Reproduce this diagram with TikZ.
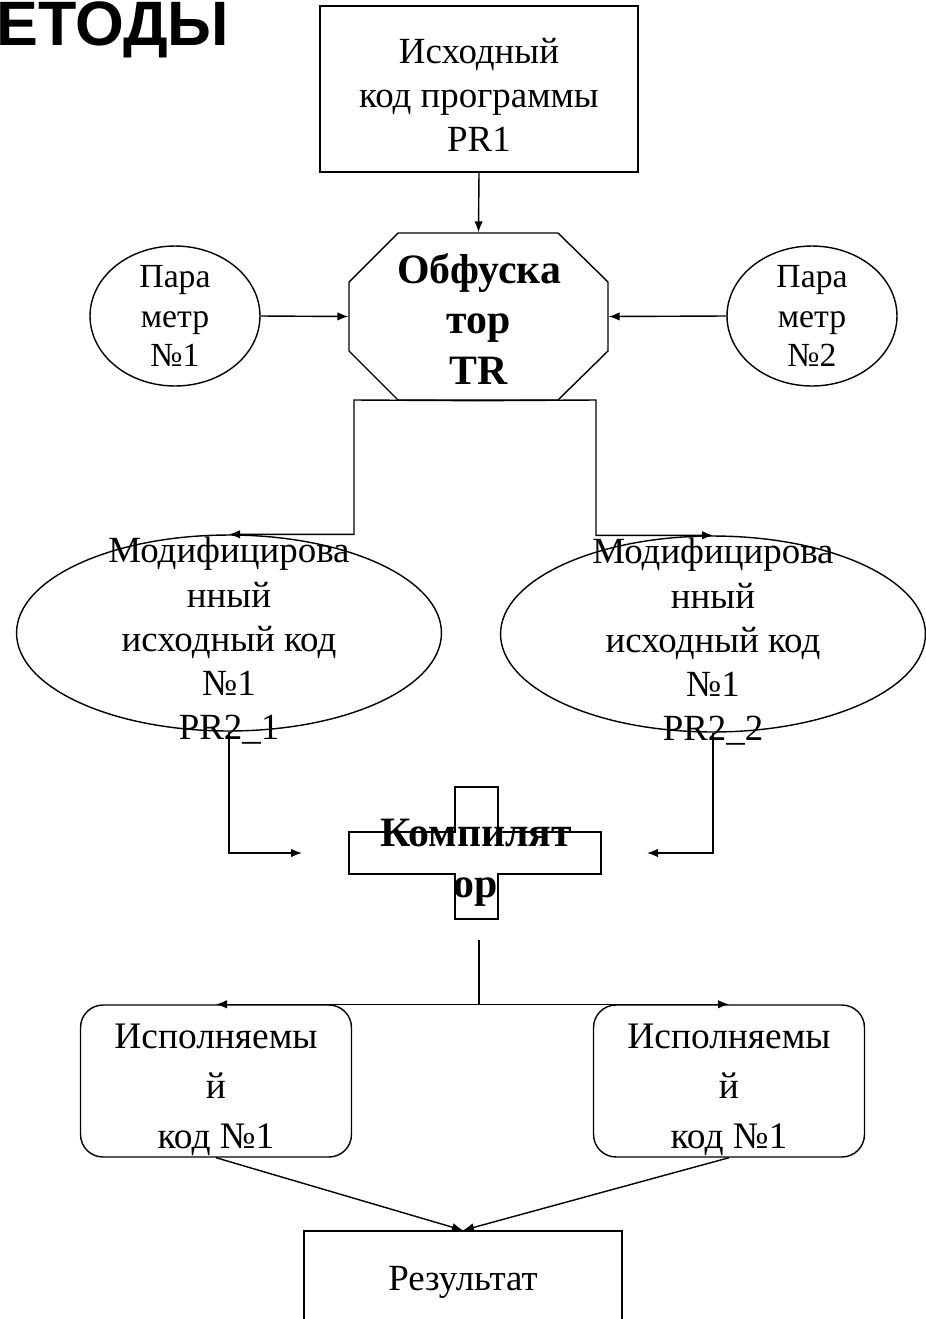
\documentclass[tikz,border=0pt]{standalone}
\usepackage{fontspec}
\setmainfont{Liberation Serif}
\newfontfamily\titlefont{Liberation Sans}
\usetikzlibrary{arrows.meta, shapes.geometric}

\tikzset{
    conn/.style={-{Latex[length=2.2mm, width=1.7mm]}},
    frame/.style={draw=none, inner sep=0pt},
    txt/.style={align=center, inner sep=0pt, font=\fontsize{21}{25.2}\selectfont},
    smalltxt/.style={align=center, inner sep=0pt, font=\fontsize{19.2}{22.7}\selectfont},
    exetxt/.style={align=center, inner sep=0pt, font=\fontsize{21.3}{28.3}\selectfont},
    boldtxt/.style={align=center, inner sep=0pt, font=\fontsize{23.8}{28.9}\selectfont\bfseries},
    box/.style={draw, rectangle, inner sep=0pt},
    roundbox/.style={draw, rectangle, rounded corners=0.45cm, inner sep=0pt, minimum width=5.42cm, minimum height=3.04cm},
    paramell/.style={draw, ellipse, inner sep=0pt, minimum width=3.4cm, minimum height=2.8cm},
    modell/.style={draw, ellipse, inner sep=0pt, minimum width=8.5cm, minimum height=3.92cm}
}

\begin{document}
\begin{tikzpicture}[x=0.02cm, y=-0.02cm, line width=0.8pt]
    \useasboundingbox (0,0) rectangle (926,1319);
    \clip (0,0) rectangle (926,1319);
    % Title
    \node[anchor=base west, inner sep=0pt, font=\titlefont\fontsize{35.7}{40}\selectfont\bfseries] (title) at (-4,45) {ЕТОДЫ};
    % Source code
    \node[box, minimum width=6.36cm, minimum height=3.32cm] (src) at (479,89) {};
    \node[txt] (srctxt) at (479,95) {Исходный\\код программы\\PR1};
    % Obfuscator
    \draw (398,233) -- (558,233) -- (608,282) -- (608,351) -- (558,400) -- (398,400) -- (349,351) -- (349,282) -- cycle;
    \node[frame, minimum width=5.18cm, minimum height=3.34cm] (obf) at (478.5,316.5) {};
    \node[boldtxt] (obftxt) at (479,319) {Обфуска\\тор\\TR};
    % Parameters
    \node[paramell] (par1) at (175,316) {};
    \node[smalltxt] (par1txt) at (175,316) {Пара\\метр\\№1};
    \node[paramell] (par2) at (812,316) {};
    \node[smalltxt] (par2txt) at (812,316) {Пара\\метр\\№2};
    % Modified code
    \node[modell] (mod1) at (229,633) {};
    \node[txt] (mod1txt) at (229,641) {Модифицирова\\нный\\исходный код\\№1\\PR2\_1};
    \node[modell] (mod2) at (713,634) {};
    \node[txt] (mod2txt) at (713,642) {Модифицирова\\нный\\исходный код\\№1\\PR2\_2};
    % Compiler
    \draw (349,832) -- (455,832) -- (455,787) -- (498,787) -- (498,832) -- (601,832) -- (601,874)
        -- (498,874) -- (498,919) -- (455,919) -- (455,874) -- (349,874) -- cycle;
    \node[frame, minimum width=5.04cm, minimum height=0.84cm] (comp) at (475,853) {};
    \node[boldtxt] (comptxt) at (476,863) {Компилят\\ор};
    % Executables
    \node[roundbox] (exe1) at (216,1081) {};
    \node[exetxt] (exe1txt) at (216,1090) {Исполняемы\\й\\код №1};
    \node[roundbox] (exe2) at (729,1081) {};
    \node[exetxt] (exe2txt) at (729,1090) {Исполняемы\\й\\код №1};
    % Result
    \node[box, minimum width=6.36cm, minimum height=3cm] (res) at (463,1306) {};
    \node[txt, anchor=base] (restxt) at (463,1290) {Результат};

    % Connectors
    \coordinate (splitL) at (354,400);
    \coordinate (splitR) at (596,400);
    \coordinate (compL) at (302,853);
    \coordinate (compR) at (647,853);
    \coordinate (compB) at (479,940);
    \draw[conn] (src.south) -- (obf.north);
    \draw[conn] (par1.east) -- (obf.west);
    \draw[conn] (par2.west) -- (obf.east);
    \draw[conn] (obf.south) -- (splitL) |- (mod1.north);
    \draw[conn] (obf.south) -- (splitR) |- (mod2.north);
    \draw[conn] (mod1.south) |- (compL);
    \draw[conn] (mod2.south) |- (compR);
    \draw[conn] (compB) |- (exe1.north);
    \draw[conn] (compB) |- (exe2.north);
    \draw[conn] (exe1.south) -- (res.north);
    \draw[conn] (exe2.south) -- (res.north);
\end{tikzpicture}
\end{document}
